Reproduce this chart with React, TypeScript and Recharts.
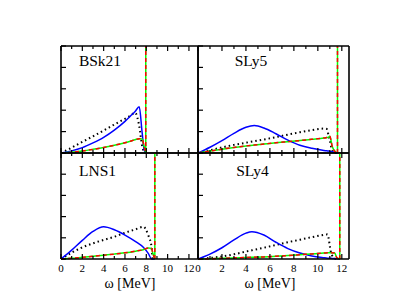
import { LineChart, Line, XAxis, YAxis, ReferenceLine } from "recharts"

// omega grid [MeV] and strength curves, one set per interaction
const bsk21W = [0, 1, 2, 3, 4, 5, 6, 6.5, 6.95, 7.34, 7.6, 7.8, 7.95]
const bsk21Blue = [0, 0.1, 0.25, 0.47, 0.73, 1.07, 1.48, 1.72, 1.94, 2.16, 1.0, 0.15, 0]
const bsk21Dot = [0, 0.25, 0.52, 0.78, 1.05, 1.33, 1.6, 1.74, 1.88, 1.25, 0.35, 0.05, 0]
const bsk21Green = [0, 0.03, 0.09, 0.17, 0.26, 0.36, 0.48, 0.55, 0.62, 0.67, 0.65, 0.3, 0]

const sly5W = [0, 1, 2, 3, 4, 4.7, 5.5, 6.5, 7.5, 8.5, 9.5, 10.5, 10.75, 10.9, 11.0, 11.2, 11.5, 11.64]
const sly5Blue = [0, 0.27, 0.58, 0.92, 1.2, 1.28, 1.17, 0.9, 0.6, 0.36, 0.22, 0.12, 0.1, 0.09, 0.08, 0.06, 0.02, 0]
const sly5Dot = [0, 0.13, 0.26, 0.38, 0.48, 0.55, 0.63, 0.74, 0.86, 0.97, 1.07, 1.14, 1.12, 0.8, 0.6, 0.1, 0, 0]
const sly5Green = [0, 0.09, 0.18, 0.26, 0.33, 0.37, 0.42, 0.48, 0.53, 0.58, 0.64, 0.7, 0.72, 0.74, 0.78, 0.3, 0.03, 0]

const lns1W = [0, 1, 2, 3, 4, 5, 6, 7, 7.72, 8.2, 8.5, 8.6, 8.8]
const lns1Blue = [0, 0.42, 0.88, 1.3, 1.52, 1.38, 1.13, 0.82, 0.55, 0.25, 0, 0, 0]
const lns1Dot = [0, 0.3, 0.55, 0.74, 0.9, 1.05, 1.24, 1.4, 1.52, 1.1, 0.55, 0, 0]
const lns1Green = [0, 0.03, 0.08, 0.13, 0.18, 0.23, 0.29, 0.37, 0.44, 0.52, 0.5, 0.3, 0]

const sly4W = [0, 1, 2, 3, 4, 4.5, 5.5, 6.5, 7.5, 8.5, 9.5, 10.5, 10.8, 11.1, 11.4, 11.6, 11.83]
const sly4Blue = [0, 0.23, 0.53, 0.9, 1.22, 1.29, 1.13, 0.79, 0.49, 0.28, 0.14, 0.06, 0.04, 0.03, 0.02, 0.01, 0]
const sly4Dot = [0, 0.05, 0.12, 0.22, 0.35, 0.41, 0.53, 0.66, 0.79, 0.91, 1.03, 1.14, 1.16, 0.3, 0.02, 0, 0]
const sly4Green = [0, 0.01, 0.03, 0.05, 0.07, 0.08, 0.1, 0.13, 0.16, 0.2, 0.24, 0.28, 0.29, 0.3, 0.28, 0.05, 0]

const names = ["BSk21", "SLy5", "LNS1", "SLy4"]
const edges = [7.95, 11.64, 8.8, 11.83]
const xTicks = [0, 1, 2, 3, 4, 5, 6, 7, 8, 9, 10, 11, 12]
const yTicks = [0, 1, 2, 3, 4, 5]

const rows = (w: number[], blue: number[], dot: number[], green: number[]) =>
  w.map((x, i) => ({ w: x, blue: blue[i], dot: dot[i], green: green[i] }))

const font = "'Liberation Serif', 'DejaVu Serif', serif"
const frame = { stroke: "#000", strokeWidth: 1.6 }

const bottomTick = (labels: boolean) => (p: any) => {
  const v = p.payload.value
  const len = v % 2 === 0 ? 5 : 3
  return (
    <g>
      <line x1={p.x} x2={p.x} y1={p.y} y2={p.y - len} stroke="#000" strokeWidth={1.2} />
      {labels && v % 2 === 0 && (
        <text x={p.x} y={p.y + 12.5} textAnchor="middle" fill="#000" style={{ fontFamily: font, fontSize: 11 }}>
          {v}
        </text>
      )}
    </g>
  )
}

const topTick = (p: any) => {
  const len = p.payload.value % 2 === 0 ? 5 : 3
  return <line x1={p.x} x2={p.x} y1={p.y} y2={p.y + len} stroke="#000" strokeWidth={1.2} />
}

const leftTick = (p: any) => <line x1={p.x} x2={p.x + 5} y1={p.y} y2={p.y} stroke="#000" strokeWidth={1.2} />
const rightTick = (p: any) => <line x1={p.x} x2={p.x - 5} y1={p.y} y2={p.y} stroke="#000" strokeWidth={1.2} />

interface PanelProps {
  data: any[]
  edge: number
  xMax: number
  left: number
  top: number
  width: number
  height: number
  labels: boolean
}

function Panel({ data, edge, xMax, left, top, width, height, labels }: PanelProps) {
  // axes take 1px each, so the plot area sits exactly at (left, top)
  const m = { top: 9, right: 9, bottom: 29, left: 9 }
  return (
    <div style={{ position: "absolute", left: left - 10, top: top - 10 }}>
      <LineChart width={width + 20} height={height + 40} data={data} margin={m}>
        <XAxis xAxisId="b" type="number" dataKey="w" domain={[0, xMax]} allowDataOverflow ticks={xTicks}
          interval={0} tickSize={0} tickMargin={0} height={1} axisLine={frame} tickLine={false} tick={bottomTick(labels)} />
        <XAxis xAxisId="t" orientation="top" type="number" dataKey="w" domain={[0, xMax]} allowDataOverflow ticks={xTicks}
          interval={0} tickSize={0} tickMargin={0} height={1} axisLine={frame} tickLine={false} tick={topTick} />
        <YAxis yAxisId="l" type="number" domain={[0, 5]} ticks={yTicks} interval={0} tickSize={0} tickMargin={0}
          width={1} axisLine={frame} tickLine={false} tick={leftTick} />
        <YAxis yAxisId="r" orientation="right" type="number" domain={[0, 5]} ticks={yTicks} interval={0} tickSize={0}
          tickMargin={0} width={1} axisLine={frame} tickLine={false} tick={rightTick} />
        <ReferenceLine xAxisId="b" yAxisId="l" x={edge} stroke="#00ff00" strokeWidth={1.5} />
        <ReferenceLine xAxisId="b" yAxisId="l" x={edge} stroke="#ff0000" strokeWidth={1.5} strokeDasharray="4 3" />
        <Line xAxisId="b" yAxisId="l" type="monotone" dataKey="dot" stroke="#000" strokeWidth={2}
          strokeDasharray="1.5 3" dot={false} isAnimationActive={false} />
        <Line xAxisId="b" yAxisId="l" type="monotone" dataKey="blue" stroke="#0000ff" strokeWidth={1.5}
          dot={false} isAnimationActive={false} />
        <Line xAxisId="b" yAxisId="l" type="monotone" dataKey="green" stroke="#00ff00" strokeWidth={1.5}
          dot={false} isAnimationActive={false} />
        <Line xAxisId="b" yAxisId="l" type="monotone" dataKey="green" stroke="#ff0000" strokeWidth={1.5}
          strokeDasharray="4 3" dot={false} isAnimationActive={false} />
      </LineChart>
    </div>
  )
}

export default function App() {
  return (
    <div style={{ position: "fixed", left: 0, top: 0, width: 396, height: 306, background: "#fff" }}>
      <Panel data={rows(bsk21W, bsk21Blue, bsk21Dot, bsk21Green)} edge={edges[0]} xMax={12.85}
        left={61} top={46} width={137} height={107} labels={false} />
      <Panel data={rows(sly5W, sly5Blue, sly5Dot, sly5Green)} edge={edges[1]} xMax={12.6}
        left={198} top={46} width={151} height={107} labels={false} />
      <Panel data={rows(lns1W, lns1Blue, lns1Dot, lns1Green)} edge={edges[2]} xMax={12.85}
        left={61} top={153} width={137} height={106} labels={true} />
      <Panel data={rows(sly4W, sly4Blue, sly4Dot, sly4Green)} edge={edges[3]} xMax={12.6}
        left={198} top={153} width={151} height={106} labels={true} />
      <svg width={396} height={306} style={{ position: "absolute", left: 0, top: 0, pointerEvents: "none" }}>
        <g fill="#000" textAnchor="middle" style={{ fontFamily: font, fontSize: 15.5 }}>
          <text x={100} y={66}>{names[0]}</text>
          <text x={251} y={66}>{names[1]}</text>
          <text x={97.5} y={176}>{names[2]}</text>
          <text x={252.5} y={176}>{names[3]}</text>
        </g>
        <g fill="#000" textAnchor="middle" style={{ fontFamily: font, fontSize: 14 }}>
          <text x={130} y={288}>ω [MeV]</text>
          <text x={270} y={288}>ω [MeV]</text>
        </g>
      </svg>
    </div>
  )
}
